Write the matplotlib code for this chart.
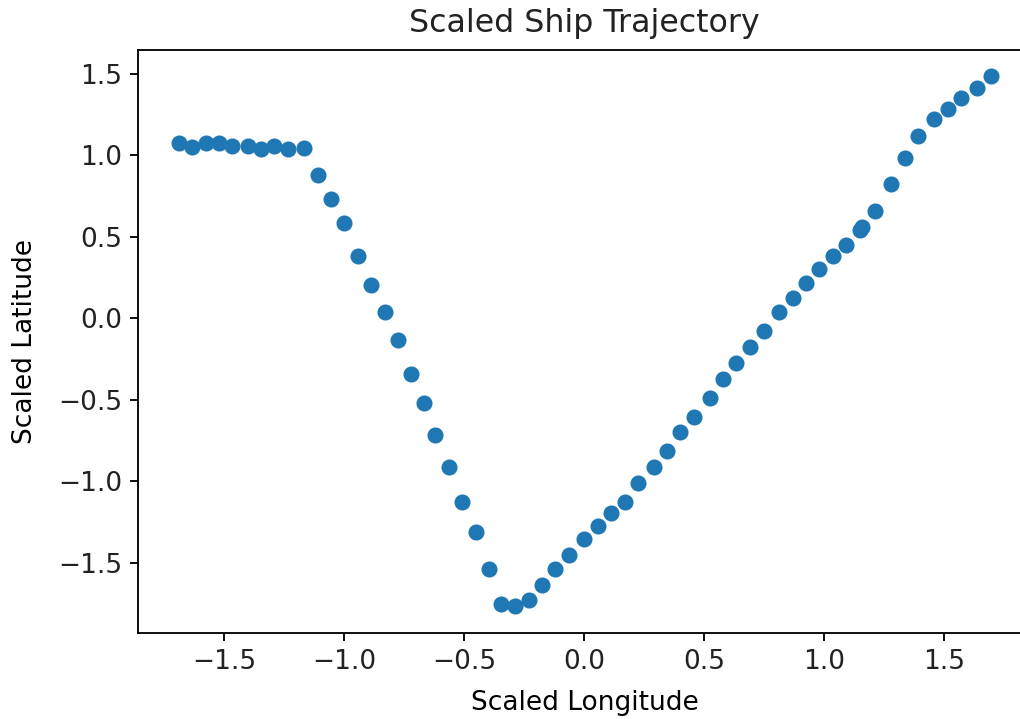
import matplotlib
matplotlib.use("Agg")
import matplotlib.pyplot as plt
import numpy as np

# scaled positions
lon = [-1.690, -1.635, -1.577, -1.524, -1.468, -1.404, -1.346, -1.292, -1.234, -1.170,
       -1.111, -1.057, -1.000, -0.945, -0.889, -0.833, -0.778, -0.722, -0.667, -0.621,
       -0.565, -0.510, -0.454, -0.399, -0.346, -0.288, -0.232, -0.176, -0.121, -0.065,
       0.000, 0.055, 0.111, 0.167, 0.222, 0.289, 0.345, 0.400, 0.456, 0.522,
       0.578, 0.633, 0.689, 0.746, 0.812, 0.868, 0.924, 0.979, 1.035, 1.090,
       1.146, 1.157, 1.212, 1.278, 1.335, 1.389, 1.456, 1.514, 1.567, 1.636,
       1.692]
lat = [1.072, 1.051, 1.077, 1.077, 1.054, 1.055, 1.035, 1.055, 1.038, 1.041,
       0.877, 0.728, 0.581, 0.382, 0.202, 0.039, -0.132, -0.340, -0.518, -0.718,
       -0.912, -1.129, -1.310, -1.536, -1.751, -1.767, -1.730, -1.634, -1.536, -1.450,
       -1.356, -1.274, -1.193, -1.127, -1.011, -0.912, -0.816, -0.701, -0.606, -0.489,
       -0.374, -0.274, -0.176, -0.078, 0.035, 0.121, 0.217, 0.301, 0.380, 0.448,
       0.540, 0.560, 0.658, 0.822, 0.982, 1.119, 1.219, 1.284, 1.350, 1.413,
       1.485]

plt.rcParams['font.size'] = 11.5
plt.rcParams['text.color'] = '#222222'
plt.rcParams['xtick.labelcolor'] = '#222222'
plt.rcParams['ytick.labelcolor'] = '#222222'

dpi = 165
fig = plt.figure(figsize=(1020/dpi, 719/dpi), dpi=dpi)
# the original is cut off on the right, so the axes run past the edge
ax = fig.add_axes([0.1356, 0.12, 0.8753, 0.8111])
ax.scatter(np.array(lon), np.array(lat))
ax.set_title("Scaled Ship Trajectory", fontsize=13.8, pad=7.5)
ax.set_xlabel("Scaled Longitude", fontsize=11.5, labelpad=6.5)
ax.set_ylabel("Scaled Latitude", fontsize=11.5, labelpad=9)
ax.tick_params(labelsize=11.5)

fig.savefig("out.png", dpi=dpi)
